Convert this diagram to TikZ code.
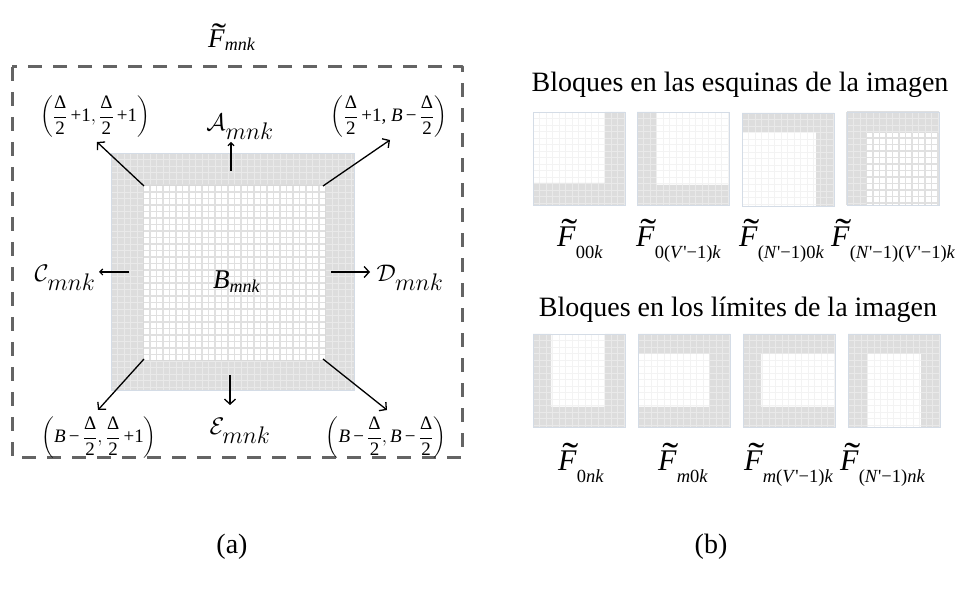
\RequirePackage{fix-cm}
\documentclass[tikz,border=0pt]{standalone}
\usepackage{amsmath}
\usepackage{fontspec}
\setmainfont{Liberation Serif}
\usetikzlibrary{arrows.meta}
\definecolor{dashgray}{RGB}{100,100,100}
\definecolor{cellgray}{RGB}{221,221,221}
\definecolor{gridlight}{RGB}{233,233,233}
\definecolor{gridin}{RGB}{224,224,224}
\definecolor{framec}{RGB}{212,220,230}
\definecolor{faint}{RGB}{243,243,243}
\newcommand\tildeF{\makebox[0pt][l]{\kern0.14em\raisebox{0.07em}{\scalebox{1.6}[1.25]{˜}}}\textit{F}}
\newcommand\FL[1]{\tildeF\raisebox{-0.37em}{\fontsize{18.5}{19}\selectfont #1}}
\newcommand\pr{\textquotesingle}
\newcommand\mfrac{\dfrac{\text{Δ}}{\text{2}}}
\tikzset{
  lab/.style={inner sep=0pt, font=\fontsize{30}{32}\selectfont},
  cal/.style={inner sep=0pt, font=\fontsize{24}{28}\selectfont},
  crd/.style={inner sep=0pt, font=\fontsize{19}{22}\selectfont},
  ttl/.style={inner sep=0pt, font=\fontsize{28}{32}\selectfont},
  arr/.style={line width=1.3pt, -{Straight Barb[length=5pt,width=11pt]}},
  sarr/.style={line width=1.1pt, -{Straight Barb[length=3pt,width=6pt]}},
  stripfill/.style={fill=cellgray},
  stripgrid/.style={draw=gridlight, line width=0.9pt, step=6.5pt},
  faintgrid/.style={draw=faint, line width=0.9pt, step=6.5pt},
  stronggrid/.style={draw=gridin, line width=1.6pt, step=6.5pt},
  thumbframe/.style={draw=framec, line width=0.7pt},
}
\newcommand\thumbnail[4]{%
  \begin{scope}[shift={(#1,#2)}]
    \fill[white] (0,0) rectangle (92,93);
    \draw[#4] (0,0) grid (92,93);
    \fill[stripfill] #3;
    \begin{scope}\clip #3; \draw[stripgrid] (0,0) grid (92,93);\end{scope}
    \draw[thumbframe] (0,0) rectangle (92,93);
  \end{scope}}
\begin{document}
\begin{tikzpicture}[x=1pt,y=-1pt]
\useasboundingbox (0,0) rectangle (964,593);
% ---------- (a) ----------
\draw[dashgray, line width=3pt, dash pattern=on 14pt off 11pt, line join=round] (12,67) rectangle (462,457);
\fill[cellgray] (111,153) rectangle (354,390);
\begin{scope}[shift={(111,153)}]
  \draw[stripgrid] (0,0) grid (243,237);
\end{scope}
\fill[white] (143,185) rectangle (325,360);
\begin{scope}
  \clip (143,185) rectangle (325,360);
  \begin{scope}[shift={(111,153)}]
    \draw[stronggrid] (0,0) grid (243,237);
  \end{scope}
\end{scope}
\draw[gray!30, line width=0.6pt] (143,185) rectangle (325,360);
\draw[framec, line width=0.8pt] (111,153) rectangle (354,390);

\node[lab, anchor=base west, font=\fontsize{27}{30}\selectfont] (Ft) at (208,48) {\tildeF\raisebox{-0.1em}{\fontsize{18}{18}\selectfont\textit{mnk}}};
\node[lab, anchor=base west, font=\fontsize{27}{30}\selectfont] (B) at (213,289) {\textit{B}\raisebox{-0.12em}{\fontsize{18}{18}\selectfont\textit{mnk}}};
\node[cal] (A) at (240,127) {$\mathcal{A}_{\textstyle mnk}$};
\node[cal] (C) at (65,278) {$\mathcal{C}_{\textstyle mnk}$};
\node[cal] (D) at (410,278) {$\mathcal{D}_{\textstyle mnk}$};
\node[cal] (E) at (240,431) {$\mathcal{E}_{\textstyle mnk}$};
\node[crd] (tl) at (95,117) {$\left(\mfrac\,\text{+1},\mfrac\,\text{+1}\right)$};
\node[crd] (tr) at (389,117) {$\left(\mfrac\,\text{+1, \textit{B}\,−}\,\mfrac\right)$};
\node[crd] (bl) at (99,438) {$\left(\text{\textit{B}\,−}\,\mfrac,\mfrac\,\text{+1}\right)$};
\node[crd] (br) at (386,438) {$\left(\text{\textit{B}\,−}\,\mfrac,\text{\textit{B}\,−}\,\mfrac\right)$};

\coordinate (cTL) at (144,186);
\coordinate (cTR) at (323,186);
\coordinate (cBL) at (144,359);
\coordinate (cBR) at (323,359);
\coordinate (tlE) at (97,142);
\coordinate (trE) at (390,140);
\coordinate (blE) at (98,410);
\coordinate (brE) at (387,410);
\coordinate (aS) at (231,171);
\coordinate (aE) at (231,142);
\coordinate (cS) at (129,272);
\coordinate (cE) at (99,272);
\coordinate (dS) at (331,272);
\coordinate (dE) at (370,272);
\coordinate (eS) at (230,375);
\coordinate (eE) at (230,405);
\draw[arr] (cTL) -- (tlE);
\draw[arr] (cTR) -- (trE);
\draw[arr] (cBL) -- (blE);
\draw[arr] (cBR) -- (brE);
\draw[sarr] (aS) -- (aE);
\draw[sarr] (cS) -- (cE);
\draw[arr] (dS) -- (dE);
\draw[arr] (eS) -- (eE);

% ---------- (b) ----------
\node[ttl] (t1) at (740,85) {Bloques en las esquinas de la imagen};
\node[ttl] (t2) at (738,310) {Bloques en los límites de la imagen};

\thumbnail{533}{112}{(72,0) rectangle (92,93) (0,71) rectangle (92,93)}{faintgrid}
\thumbnail{637}{112}{(0,0) rectangle (19,93) (0,73) rectangle (92,93)}{faintgrid}
\thumbnail{742}{113}{(0,0) rectangle (92,19) (74,0) rectangle (92,93)}{faintgrid}
\thumbnail{847}{112}{(0,0) rectangle (92,21) (0,0) rectangle (19,93)}{stronggrid}

\thumbnail{533}{334}{(0,0) rectangle (18,93) (72,0) rectangle (92,93) (0,73) rectangle (92,93)}{faintgrid}
\thumbnail{638}{334}{(0,0) rectangle (92,20) (0,73) rectangle (92,93) (71,0) rectangle (92,93)}{faintgrid}
\thumbnail{743}{334}{(0,0) rectangle (92,20) (0,73) rectangle (92,93) (0,0) rectangle (18,93)}{faintgrid}
\thumbnail{848}{334}{(0,0) rectangle (92,20) (0,0) rectangle (19,93) (73,0) rectangle (92,93)}{faintgrid}

\node[lab, anchor=base west] (f1) at (557,247) {\FL{00\textit{k}}};
\node[lab, anchor=base west] (f2) at (636,247) {\FL{0(\textit{V}\pr−1)\textit{k}}};
\node[lab, anchor=base west] (f3) at (739,247) {\FL{(\textit{N}\pr−1)0\textit{k}}};
\node[lab, anchor=base west] (f4) at (831,247) {\FL{(\textit{N}\pr−1)(\textit{V}\pr−1)\textit{k}}};

\node[lab, anchor=base west] (g1) at (558,471) {\FL{0\textit{nk}}};
\node[lab, anchor=base west] (g2) at (658,471) {\FL{\textit{m}0\textit{k}}};
\node[lab, anchor=base west] (g3) at (744,471) {\FL{\textit{m}(\textit{V}\pr−1)\textit{k}}};
\node[lab, anchor=base west] (g4) at (840,471) {\FL{(\textit{N}\pr−1)\textit{nk}}};

\node[ttl] (capa) at (232,547) {(a)};
\node[ttl] (capb) at (711,547) {(b)};
\end{tikzpicture}
\end{document}
